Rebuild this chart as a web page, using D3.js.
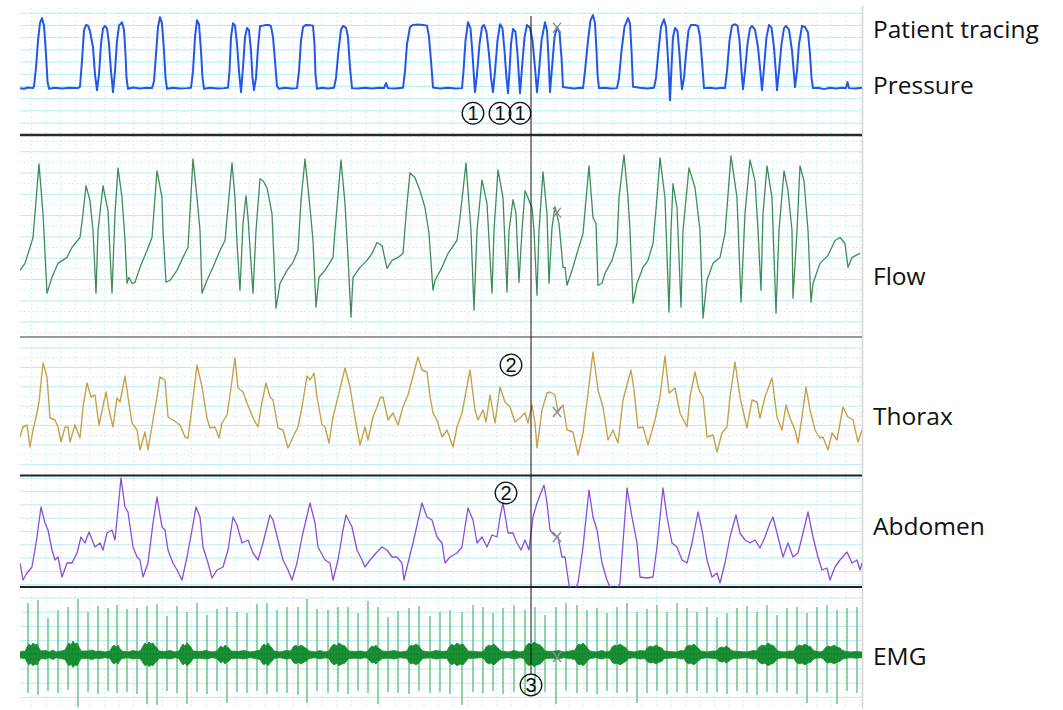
<!DOCTYPE html>
<html><head><meta charset="utf-8">
<script src="https://cdn.jsdelivr.net/npm/d3@7"></script>
<style>body{margin:0;background:#fff;} svg{display:block;}</style>
</head><body>
<svg id="chart" width="1063" height="710"></svg>
<script>
// ---------- DATA (time in samples, 0..842) ----------
const timeDomain = [0, 842];

const pressure = [
[0,4.0],[4,3.9],[8,4.1],[13,4.0],
[14,4.3],[16,7],[18,11],[20,13.6],[22,14.3],[24,13.2],[26,9],[27.5,5],[29,3.9],
[35,4.05],[42,3.95],[50,4.05],[58,4.0],
[60,4.2],[62,8],[64,12.5],[66,13.3],[68,13.2],[70,12.4],[73,10],[75,6],[77,3.7],
[79,6],[81,10.5],[83,12.8],[85,13.15],[87,12.8],[89,10.5],[91,6.5],[93,3.4],
[95,6.5],[97,11],[99,13.2],[102,13.7],[104,12.6],[105.5,9],[106.5,5.5],[108,3.9],
[113,4.1],[120,3.95],[127,4.05],[132,4.0],
[134,5],[136,9],[138,13],[140,14.45],[142,13.5],[144,9.5],[145.5,5.5],[147,3.9],
[153,4.05],[160,3.95],[167,4.0],[171,4.05],
[173,6.5],[175,11.5],[177,14.0],[179,13.4],[181,9.5],[182.5,5.5],[184,3.9],
[190,4.05],[198,3.95],[204,4.0],[208,4.05],
[209.5,6.5],[211,11.5],[213,13.55],[215,13.2],[217,10.5],[219,6.5],[221,3.4],
[223,7],[225,11.5],[227,12.85],[229,12.5],[231,9.5],[232.5,5.5],[234,3.7],
[236,5.5],[238,10],[240,13.1],[243,13.2],[246,13.3],[249,13.3],[251,13.1],[253,11.5],[255,8],[257,4.3],[259,3.9],
[265,4.05],[272,3.95],[277,4.0],
[279,6.5],[281,11],[283,13.0],[286,13.3],[290,13.25],[293,13.2],[294.5,10.5],[295.5,6],[297,3.9],
[302,4.05],[308,3.95],[314,4.05],
[316,5.5],[318.5,9.5],[321,12.6],[323,13.15],[326,12.9],[328,11.5],[330,7],[332,4.0],
[338,3.95],[345,4.05],[352,3.95],[360,4.05],[364,4.0],[366,4.75],[368,4.0],[375,3.95],[383,4.05],
[385,6.5],[387,10.5],[390,13.0],[393,13.3],[398,13.35],[403,13.3],[407,13.2],[409,11.5],[411,8],[413,4.1],
[420,3.95],[428,4.05],[436,3.95],[442,4.0],
[443.5,6.5],[445.5,11],[448,13.7],[450.5,12.8],[452.5,9],[454,5.5],[455,3.4],
[457,6],[459.5,10.5],[462,13],[464,13.3],[466.5,12.3],[469,9],[471,5.5],[473,3.4],
[475,6.5],[477.5,11],[480,13.4],[482.5,12.8],[484.5,9.5],[486.5,5.5],[488,3.25],
[489.5,6.5],[491,10.5],[493,12.7],[495.5,12.3],[497.5,9],[499,5.5],[500,3.25],
[502,7],[504.5,11.5],[507,13.3],[510,12.9],[512.5,11],[515,7],[517,3.4],
[519,6.5],[521.5,11],[525,13.7],[527,12.5],[528.5,8.5],[530,3.4],
[532,7],[534.5,11.5],[537,13.0],[539.5,12.2],[541.5,8.5],[543,4.15],
[548,4.05],[554,3.95],[560,4.05],[563,4.0],
[565,6.5],[568,11],[570.5,14.0],[573,14.75],[575,13.5],[576.5,9.5],[577.5,6],[579,4.0],
[585,4.05],[591,3.95],[597,4.0],
[599,5.5],[601.5,9.5],[604.5,13.0],[608,14.3],[610,13.5],[611.5,9.5],[613,4.2],
[620,4.05],[627,3.95],[634,4.05],
[636,5.5],[638.5,9.5],[641,13.0],[644,14.15],[646,13.0],[647.5,9.5],[649,5.5],[650,2.2],
[651.5,7],[653,11.5],[655,12.85],[657.5,12.4],[659.5,9],[661,5.5],[662,3.85],
[664,5.5],[666,9],[668.5,12.5],[671,13.3],[675,13.3],[678,13.15],[680,11.5],[682,8],[684,4.0],
[690,4.05],[696,3.95],[702,4.05],[705,4.0],
[707,6.5],[709.5,11],[712,13.2],[715,13.4],[717.5,13.2],[719.5,11],[721.5,6.5],[723,3.85],
[725,6.5],[727.5,10.5],[730,12.8],[732,13.15],[735,12.6],[738,10],[740,7],[742,3.7],
[744,7],[746.5,11.5],[749,13.3],[751.5,12.9],[754,10],[756,6],[757,3.7],
[759,6.5],[761.5,10.5],[764,12.8],[766,13.15],[769,12.6],[772,9.5],[774,6],[775,4.15],
[777,6.5],[779,10.5],[782,13.15],[785,13.0],[788,12.2],[790,9],[791.5,5.5],[793,4.0],
[798,4.05],[804,3.85],[810,4.05],[816,3.95],[822,4.05],[826,4.0],[827.5,4.9],[829,4.0],[835,3.95],[842,4.05]
];

const flow = [
[0,-34],[5,-27],[10,-11],[13,-1],[19,73],[23,23],[27,-57],[32,-41],[38,-27],[47,-21],[52,-11],[60,-1],
[63,23],[66,51],[70,36],[73,6],[76,-57],[78,6],[83,51],[88,26],[92,-57],[95,23],[98,69],[102,39],
[105,-4],[107,-47],[109,-41],[112,-47],[115,-46],[120,-31],[127,-14],[132,-1],[137,66],[142,39],[143,6],
[146,-46],[150,-44],[157,-34],[163,-21],[168,-11],[173,78],[177,39],[180,6],[182,-57],[187,-44],[193,-31],
[200,-14],[205,-4],[212,74],[215,39],[217,-7],[220,-54],[223,13],[226,41],[228,19],[233,-57],[236,6],
[240,58],[243,56],[247,49],[252,23],[256,-72],[260,-47],[267,-34],[273,-26],[278,-14],[281,36],[285,78],
[290,29],[293,-4],[296,-71],[299,-41],[305,-34],[310,-26],[313,-21],[315,6],[321,77],[325,33],[328,-21],
[331,-81],[333,-41],[340,-31],[347,-24],[352,-17],[357,-6],[362,-9],[367,-32],[372,-24],[378,-21],[383,-17],
[387,33],[390,64],[395,59],[400,46],[405,29],[409,3],[413,-54],[415,-44],[422,-31],[428,-17],[437,-4],
[440,19],[446,74],[448,46],[451,6],[454,-74],[457,6],[462,57],[467,33],[472,-57],[474,6],[478,67],[483,39],
[487,-56],[489,6],[493,37],[496,23],[499,-46],[502,6],[505,46],[508,39],[512,29],[514,6],[517,-59],[519,6],
[523,65],[527,23],[529,-47],[532,9],[535,30],[539,13],[543,-31],[545,-31],[547,-49],[552,-34],[557,-17],
[563,3],[569,71],[573,19],[576,13],[578,-49],[582,-47],[585,-37],[592,-24],[597,-7],[599,39],[604,82],
[608,39],[610,6],[613,-67],[617,-47],[623,-31],[628,-24],[633,-7],[637,39],[640,79],[645,39],[649,-76],
[651,6],[653,53],[657,29],[661,-71],[663,6],[669,69],[675,49],[680,6],[683,-82],[687,-44],[693,-27],
[700,-21],[705,3],[711,81],[717,39],[721,-66],[725,23],[730,77],[735,56],[738,6],[741,-54],[743,23],
[747,71],[752,39],[756,-77],[759,6],[764,66],[768,46],[772,6],[773,-62],[777,6],[780,71],[784,56],[788,6],
[791,-66],[793,-47],[800,-27],[808,-19],[815,-4],[820,-1],[825,-7],[828,-31],[832,-21],[840,-17]
];

const thorax = [
[0,-31],[3,-21],[7,-19],[10,-41],[13,-24],[17,-7],[19,4],[23,43],[27,29],[30,-12],[35,-14],[38,-21],
[41,-36],[45,-21],[48,-21],[50,-36],[55,-19],[60,-32],[63,-1],[67,23],[71,9],[75,11],[79,-19],[86,14],
[89,-4],[93,-21],[97,8],[100,4],[105,30],[108,9],[112,-17],[117,-24],[120,-44],[125,-26],[128,-44],
[133,-14],[137,9],[140,29],[145,26],[148,-11],[153,-14],[160,-19],[165,-31],[168,-32],[172,-1],[177,41],
[182,19],[187,-12],[190,-22],[195,-21],[199,-32],[202,-17],[207,-9],[210,11],[215,48],[218,18],[223,14],
[227,3],[233,-12],[238,-21],[242,4],[246,23],[250,9],[253,6],[258,-22],[263,-24],[268,-42],[273,-31],
[278,-21],[282,-1],[287,30],[290,26],[294,33],[297,9],[302,-19],[305,-21],[309,-37],[313,-11],[318,9],
[325,38],[330,19],[335,-12],[340,-39],[345,-21],[348,-34],[353,-11],[357,-1],[360,8],[363,9],[368,-14],
[373,-7],[378,-19],[383,-1],[388,11],[398,49],[402,36],[407,34],[410,10],[413,-7],[417,-14],[422,-31],
[427,-24],[433,-41],[437,-21],[442,-7],[445,9],[450,36],[455,-4],[458,-14],[463,-4],[466,-16],[470,11],
[475,-17],[480,19],[485,4],[490,-1],[495,-16],[500,-12],[505,-7],[508,-17],[512,1],[515,-17],[517,-42],
[522,-4],[527,13],[530,14],[535,11],[538,-6],[543,1],[547,-24],[553,-26],[558,-49],[563,-27],[568,13],
[573,54],[578,16],[583,-1],[588,-34],[593,-24],[598,-37],[603,6],[611,36],[614,16],[618,-22],[623,-21],
[628,-39],[635,-14],[640,9],[645,50],[649,13],[655,18],[660,-7],[667,-21],[670,9],[675,34],[679,16],
[683,9],[687,-31],[693,-29],[697,-46],[702,-27],[707,-21],[710,9],[715,44],[720,9],[727,-22],[732,6],
[737,4],[740,-12],[745,9],[752,28],[757,-11],[762,-24],[766,1],[770,-12],[775,-24],[778,-37],[782,-11],
[786,19],[790,-4],[795,-24],[800,-32],[803,-31],[808,-44],[812,-27],[817,-34],[823,-1],[828,-11],
[833,-14],[838,-36],[842,-24]
];

const abdomen = [
[0,-32],[3,-49],[7,-42],[12,-36],[17,-6],[21,24],[25,8],[28,1],[32,-19],[35,-29],[38,-26],[42,-46],
[47,-32],[52,-32],[57,-22],[61,-6],[65,-12],[69,-1],[75,-16],[80,-12],[83,-19],[87,-2],[92,1],[95,-9],
[101,53],[105,24],[108,19],[113,-16],[117,-26],[120,-29],[123,-46],[128,-32],[133,8],[137,34],[142,4],
[145,1],[148,-19],[153,-32],[157,-39],[162,-49],[167,-26],[172,1],[176,24],[180,14],[183,-16],[188,-32],
[192,-47],[197,-39],[203,-36],[208,-19],[213,14],[217,6],[222,-12],[228,-9],[233,-22],[238,-29],[243,-12],
[250,16],[253,11],[258,-9],[263,-29],[268,-39],[272,-49],[277,-32],[282,-6],[290,28],[295,8],[298,-16],
[305,-29],[310,-32],[313,-49],[318,-29],[323,1],[326,16],[332,4],[337,-19],[342,-29],[345,-36],[350,-29],
[357,-21],[362,-16],[367,-19],[372,-26],[377,-26],[382,-32],[384,-49],[388,-32],[393,-12],[402,28],
[407,14],[412,11],[417,-6],[422,-12],[425,-32],[430,-26],[437,-22],[442,-16],[445,4],[448,23],[453,11],
[457,-12],[462,-6],[467,-16],[472,-4],[477,-6],[480,14],[483,28],[488,-2],[493,-2],[497,-12],[501,-19],
[505,-9],[509,-19],[513,14],[517,28],[524,46],[527,28],[530,1],[534,-4],[538,-6],[542,-26],[545,-26],
[549,-54],[553,-62],[558,-52],[563,-16],[569,41],[573,14],[577,1],[582,-32],[587,-49],[590,-56],[595,-62],
[600,-52],[603,-12],[607,43],[612,14],[617,-12],[620,-46],[627,-47],[633,-46],[637,-16],[643,43],[647,14],
[652,-12],[657,-16],[662,-29],[667,-32],[672,-12],[678,19],[682,1],[687,-29],[692,-46],[697,-42],[700,-52],
[705,-32],[710,-6],[716,16],[720,-2],[725,-9],[730,-12],[735,-9],[740,-17],[745,-6],[750,8],[753,14],
[758,-6],[763,-26],[768,-12],[773,-26],[778,-22],[783,-2],[788,19],[793,-6],[798,-26],[802,-39],[807,-37],
[810,-49],[815,-36],[820,-29],[827,-21],[832,-32],[837,-29],[840,-39],[842,-32]
];

const emgSpikeTimes = [8,18,28,38,48,58,68,78,88,97,107,117,127,137,147,157,167,177,187,197,
207,217,227,237,247,257,267,278,287,297,308,318,328,338,348,358,368,378,389,399,410,420,430,
442,453,463,473,483,494,505,515,525,536,546,557,567,577,587,597,607,617,627,637,647,657,667,677,
687,697,707,717,727,737,747,757,767,777,787,797,807,817,827,837];
const emgSpikeTops = [52,55,37,45,48,56,43,49,47,50,46,47,49,51,39,49,43,52,40,46,48,43,42,51,52,45,48,48,
56,46,45,48,48,42,54,48,38,44,47,49,39,43,45,
43,50,48,42,47,50,45,48,40,48,52,50,45,47,42,48,52,43,46,50,43,52,47,43,48,38,42,47,49,43,50,40,47,48,42,48,50,45,47,48];
const emgSpikeBottoms = [-38,-40,-36,-38,-35,-52,-37,-39,-36,-38,-37,-39,-49,-50,-36,-38,-49,-37,-39,-36,
-48,-37,-38,-36,-39,-37,-38,-40,-48,-36,-38,-37,-39,-36,-38,-49,-37,-38,-39,-36,-38,-37,-39,
-50,-37,-38,-36,-39,-37,-38,-40,-37,-49,-36,-38,-37,-39,-36,-38,-37,-48,-38,-36,-39,-37,-38,-36,-38,-37,
-39,-36,-38,-40,-37,-38,-36,-39,-48,-37,-38,-49,-36,-38];
// EMG activity envelope (half-amplitude) keypoints
const emgEnvelope = [
[0,3],[3,4],[5,3.5],
[7,8],[9,11],[11,9],[13,12],[15,10],[17,11],[19,7],[21,4],
[26,4.5],[29,3],[33,5],[36,3],[41,4],
[45,5],[47,9],[49,12],[51,10],[53,14],[55,11],[57,12],[59,8],[61,4],
[68,4],[72,5],[76,3.5],[80,4],[85,3],
[90,4],[92,8],[94,10],[96,8],[98,10],[100,6],[102,4],
[108,3],[113,4.5],[118,3.5],
[121,5],[123,9],[125,12],[127,10],[129,13],[131,11],[133,12],[135,9],[137,7],[139,4],
[145,3.5],[150,4.5],[155,3],
[159,4],[161,8],[163,11],[165,9],[167,12],[169,10],[171,8],[173,4],
[180,3.5],[186,4.5],[192,3],
[197,4],[199,7],[201,9],[203,7],[205,10],[207,8],[209,7],[211,4],
[218,3.5],[224,4.5],[230,3],[236,4],
[240,5],[242,9],[244,11],[246,9],[248,12],[250,9],[252,7],[254,4],
[260,3],[266,4.5],
[271,4],[273,8],[276,10],[278,8],[281,10],[284,8],[287,6],[289,4],
[295,3],[300,4.5],[305,3],
[309,4],[311,8],[314,11],[317,9],[319,12],[322,10],[325,9],[327,6],[329,4],
[335,3.5],[341,4],[345,3],
[348,4],[350,7],[352,9],[354,8],[356,10],[358,7],[360,6],[362,4],
[368,3.5],[374,4.5],[380,3],
[387,4],[389,8],[391,10],[393,9],[396,11],[399,9],[401,6],[403,4],
[410,3],[416,4.5],[422,3.5],
[427,4],[429,8],[432,11],[434,9],[437,12],[440,10],[443,11],[446,7],[448,4],
[455,3.5],[461,3],
[464,4],[466,8],[469,10],[471,9],[474,11],[477,8],[479,6],[481,4],
[488,3],[494,4.5],[500,3],
[504,4],[506,9],[509,12],[511,10],[514,13],[517,11],[520,10],[523,7],[525,4],
[532,3.5],[538,4.5],[544,3],[550,4],
[555,5],[557,9],[559,11],[561,10],[563,12],[566,9],[568,6],[570,4],
[576,3],[582,4.5],[586,3],
[590,4],[592,8],[595,10],[597,9],[600,11],[603,9],[606,7],[608,4],
[614,3],[620,4.5],
[625,4],[627,7],[630,9],[633,8],[636,10],[639,8],[642,7],[644,4],
[650,3.5],[656,3],[661,4.5],
[664,4],[666,8],[669,10],[671,9],[674,11],[677,8],[679,6],[681,4],
[687,3],[693,4],
[697,4],[699,7],[702,8],[704,7],[706,9],[709,7],[711,5],[713,4],
[720,3.5],[727,3],[733,4.5],
[737,4],[739,8],[742,10],[745,9],[748,12],[751,10],[754,9],[756,6],[758,4],
[764,3],[770,4],
[774,4],[776,8],[779,10],[782,9],[785,11],[788,9],[791,8],[793,5],[795,4],
[800,3],
[803,4],[805,7],[808,9],[811,8],[814,10],[817,8],[820,7],[822,5],[824,4],
[830,3],[836,3.5],[842,3]
];

const channelLabels = ["Patient tracing", "Pressure", "Flow", "Thorax", "Abdomen", "EMG"];
const cursorTime = 511;
const artifactTime = 537;
// annotation marks: [time, channel, value, number]
const circleMarks = [[453,"pressure",0.3,"1"],[480,"pressure",0.3,"1"],[500,"pressure",0.3,"1"],
  [491,"thorax",41,"2"],[486,"abdomen",38,"2"],[511,"emg",-30,"3"]];
const crossMarks = [["pressure",12.9],["flow",24],["thorax",-6],["abdomen",-6],["emg",-2]];

// ---------- LAYOUT ----------
const svg = d3.select("#chart");
const x = d3.scaleLinear().domain(timeDomain).range([20, 862]);

const panels = {
  pressure: {top:10, bottom:135, domain:[-2.9, 15.5], gridStart:13.3, gridStep:12.2, half:false},
  flow:     {top:137, bottom:336, domain:[-100, 100], gridStart:151.7, gridStep:21.3, half:true},
  thorax:   {top:338, bottom:475, domain:[-69, 68], gridStart:348, gridStep:19.4, half:true},
  abdomen:  {top:476, bottom:587, domain:[-56, 55], gridStart:478.3, gridStep:13.3, half:false},
  emg:      {top:588, bottom:708, domain:[-53, 67], gridStart:598, gridStep:14.2, half:false}
};
Object.values(panels).forEach(p => p.y = d3.scaleLinear().domain(p.domain).range([p.bottom, p.top]));

const defs = svg.append("defs");
Object.entries(panels).forEach(([k,p]) => {
  defs.append("clipPath").attr("id","clip-"+k).append("rect")
    .attr("x",20).attr("y",p.top).attr("width",842).attr("height",p.bottom-p.top);
});
const pat = defs.append("pattern").attr("id","emgTex").attr("patternUnits","userSpaceOnUse")
  .attr("width",3).attr("height",5);
pat.append("rect").attr("width",3).attr("height",5).attr("fill","#138a2e");
pat.append("rect").attr("x",1.6).attr("y",0).attr("width",0.7).attr("height",3).attr("fill","#2d9c48");

// grid
const grid = svg.append("g");
Object.values(panels).forEach(p => {
  const ys = d3.range(p.gridStart, p.bottom - 1, p.gridStep);
  grid.selectAll(null).data(ys).enter().append("line")
    .attr("x1",20).attr("x2",862).attr("y1",d=>d).attr("y2",d=>d)
    .attr("stroke","#b9ecf4").attr("stroke-width",1);
  if (p.half) {
    const hs = d3.range(p.gridStart - p.gridStep/2, p.bottom - 1, p.gridStep).filter(v=>v>p.top+2);
    grid.selectAll(null).data(hs).enter().append("line")
      .attr("x1",20).attr("x2",862).attr("y1",d=>d).attr("y2",d=>d)
      .attr("stroke","#cdf1f6").attr("stroke-width",1).attr("stroke-dasharray","2,2");
  }
});
const vx = d3.range(31.7, 862, 14.53);
grid.selectAll(null).data(vx).enter().append("line")
  .attr("x1",d=>d).attr("x2",d=>d).attr("y1",8).attr("y2",708)
  .attr("stroke","#c3ebf1").attr("stroke-width",1).attr("stroke-dasharray","1.5,2.5");
grid.append("line").attr("x1",862.5).attr("x2",862.5).attr("y1",6).attr("y2",708)
  .attr("stroke","#d4d4d4").attr("stroke-width",1.5);

// separators
const seps = [[135,"#2a2a2a",2.5],[337,"#9a9a9a",2],[475.5,"#222",2],[587,"#222",2]];
svg.selectAll(null).data(seps).enter().append("line")
  .attr("x1",20).attr("x2",862).attr("y1",d=>d[0]).attr("y2",d=>d[0])
  .attr("stroke",d=>d[1]).attr("stroke-width",d=>d[2]);

// traces
function trace(key, data, color, width) {
  const p = panels[key];
  svg.append("path").datum(data)
    .attr("clip-path","url(#clip-"+key+")")
    .attr("fill","none").attr("stroke",color).attr("stroke-width",width)
    .attr("stroke-linejoin","round")
    .attr("d", d3.line().x(d=>x(d[0])).y(d=>p.y(d[1])));
}
trace("pressure", pressure, "#2457e8", 2);
trace("flow", flow, "#3f8c58", 1.3);
trace("thorax", thorax, "#c9a04a", 1.4);
trace("abdomen", abdomen, "#8a4ed8", 1.3);

// EMG
const pe = panels.emg;
const spikeG = svg.append("g").attr("clip-path","url(#clip-emg)");
spikeG.selectAll("line").data(emgSpikeTimes).enter().append("line")
  .attr("x1",d=>x(d)).attr("x2",d=>x(d))
  .attr("y1",(d,i)=>pe.y(emgSpikeTops[i])).attr("y2",(d,i)=>pe.y(emgSpikeBottoms[i]))
  .attr("stroke","#5abb75").attr("stroke-width",1.3);
svg.append("path").datum(emgEnvelope)
  .attr("clip-path","url(#clip-emg)")
  .attr("fill","url(#emgTex)").attr("stroke","#178c31").attr("stroke-width",0.8)
  .attr("d", d3.area().x(d=>x(d[0])).y0(d=>pe.y(-d[1]*0.9)).y1(d=>pe.y(d[1])));

// cursor
svg.append("line").attr("x1",x(cursorTime)).attr("x2",x(cursorTime))
  .attr("y1",16).attr("y2",674).attr("stroke","#111").attr("stroke-width",1);

// crosses
const cx = x(artifactTime);
crossMarks.forEach(([k,v]) => {
  const cy = panels[k].y(v);
  svg.append("path").attr("d",`M${cx-4},${cy-5}L${cx+4},${cy+5}M${cx+4},${cy-5}L${cx-4},${cy+5}`)
    .attr("stroke","#8c8c8c").attr("stroke-width",1.4).attr("fill","none");
});

// circled numbers
circleMarks.forEach(([t,k,v,n]) => {
  const px = x(t), py = panels[k].y(v);
  svg.append("circle").attr("cx",px).attr("cy",py).attr("r",10.8)
    .attr("fill","none").attr("stroke","#111").attr("stroke-width",1.3);
  svg.append("text").attr("x",px).attr("y",py+7).attr("text-anchor","middle")
    .attr("font-family","Liberation Sans, Arial, sans-serif").attr("font-size",20)
    .attr("fill","#111").text(n);
});

// labels
const labelY = [38, 94, 285, 425, 535, 665];
svg.selectAll(".lab").data(channelLabels).enter().append("text")
  .attr("class","lab").attr("x",873).attr("y",(d,i)=>labelY[i])
  .attr("font-family","Open Sans, Lato, sans-serif").attr("font-size",24.5)
  .attr("fill","#111").text(d=>d);
</script>
</body></html>
